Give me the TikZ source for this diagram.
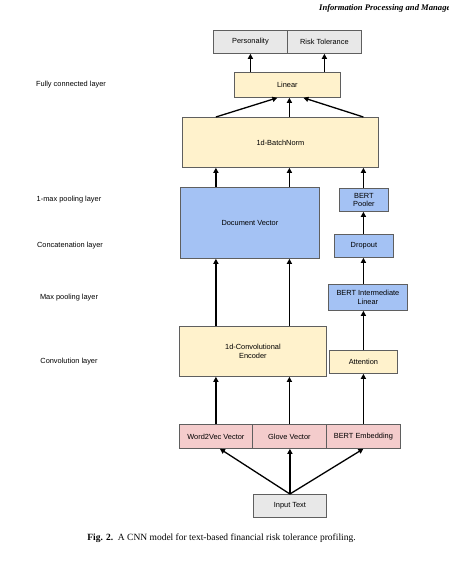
\documentclass[tikz,border=0pt]{standalone}
\usepackage{fontspec}
\setmainfont{Liberation Serif}
\newfontfamily\boxfont{Liberation Sans}
\usetikzlibrary{arrows.meta}
\definecolor{cyel}{HTML}{FFF2CC}
\definecolor{cblue}{HTML}{A4C2F4}
\definecolor{cpink}{HTML}{F4CCCC}
\definecolor{cgray}{HTML}{E8E8E8}
\definecolor{cedge}{HTML}{5F5F5F}
\tikzset{
  box/.style={draw=cedge, line width=0.8pt, anchor=north west, inner sep=1pt, align=center,
    font=\boxfont\fontsize{7.4}{8.8}\selectfont},
  yel/.style={box, fill=cyel},
  blu/.style={box, fill=cblue},
  pnk/.style={box, fill=cpink},
  gry/.style={box, fill=cgray},
  lbl/.style={font=\boxfont\fontsize{7.4}{8.8}\selectfont, inner sep=0pt},
  arr/.style={line width=1.3pt, -{Triangle[length=5pt,width=5pt]}}
}
\begin{document}
\begin{tikzpicture}[x=1pt,y=-1pt]
\useasboundingbox (0,0) rectangle (448,561);
% header (cut off at the right edge, as in the reference)
\node[anchor=base west, inner sep=0pt, font=\fontsize{8.6}{9.6}\selectfont\bfseries\itshape] (hdr) at (319,11) {Information Processing and Management};
% boxes
\node[gry, minimum width=74, minimum height=23] (pers) at (213,30) {Personality};
\node[gry, minimum width=74, minimum height=23] (risk) at (287,30) {Risk Tolerance};
\node[yel, minimum width=106, minimum height=25] (lin) at (234,72) {Linear};
\node[yel, minimum width=196, minimum height=50] (bn) at (182,117) {1d-BatchNorm};
\node[blu, minimum width=139, minimum height=71] (doc) at (180,187) {Document Vector};
\node[blu, minimum width=49, minimum height=23] (pool) at (339,188) {BERT\\Pooler};
\node[blu, minimum width=59, minimum height=23] (drop) at (334,234) {Dropout};
\node[blu, minimum width=79, minimum height=26] (inter) at (328,284) {BERT Intermediate\\Linear};
\node[yel, minimum width=68, minimum height=23] (attn) at (329,350) {Attention};
\node[yel, minimum width=147, minimum height=50] (conv) at (179,326) {1d-Convolutional\\Encoder};
\node[pnk, minimum width=73, minimum height=24] (w2v) at (179,424) {Word2Vec Vector};
\node[pnk, minimum width=74, minimum height=24] (glove) at (252,424) {Glove Vector};
\node[pnk, minimum width=74, minimum height=24] (bemb) at (326,424) {BERT Embedding};
\node[gry, minimum width=73, minimum height=23] (inp) at (253,494) {Input Text};
% layer labels
\node[lbl] (l1) at (71,85) {Fully connected layer};
\node[lbl] (l2) at (69,199.5) {1-max pooling layer};
\node[lbl] (l3) at (70,245.5) {Concatenation layer};
\node[lbl] (l4) at (69,297.5) {Max pooling layer};
\node[lbl] (l5) at (69,362) {Convolution layer};
% arrows
\draw[arr] (inp.north) -- ([xshift=4]w2v.south);
\draw[arr] (inp.north) -- (inp.north |- glove.south);
\draw[arr] (inp.north) -- (bemb.south);
\draw[arr] (w2v.north) -- (w2v.north |- conv.south);
\draw[arr] (glove.north) -- (glove.north |- conv.south);
\draw[arr] (bemb.north) -- (bemb.north |- attn.south);
\draw[arr] (w2v.north |- conv.north) -- (w2v.north |- doc.south);
\draw[arr] (glove.north |- conv.north) -- (glove.north |- doc.south);
\draw[arr] (bemb.north |- attn.north) -- (bemb.north |- inter.south);
\draw[arr] (bemb.north |- inter.north) -- (bemb.north |- drop.south);
\draw[arr] (bemb.north |- drop.north) -- (bemb.north |- pool.south);
\draw[arr] (w2v.north |- doc.north) -- (w2v.north |- bn.south);
\draw[arr] (glove.north |- doc.north) -- (glove.north |- bn.south);
\draw[arr] (bemb.north |- pool.north) -- (bemb.north |- bn.south);
\draw[arr] (w2v.north |- bn.north) -- ([xshift=-10]lin.south);
\draw[arr] (glove.north |- bn.north) -- (glove.north |- lin.south);
\draw[arr] (bemb.north |- bn.north) -- ([xshift=16]lin.south);
\draw[arr] (pers.south |- lin.north) -- (pers.south);
\draw[arr] (risk.south |- lin.north) -- (risk.south);
% caption
\node[anchor=base, inner sep=0pt, font=\fontsize{9.5}{11}\selectfont] (cap) at (221.5,540) {\textbf{Fig. 2.}\enspace A CNN model for text-based financial risk tolerance profiling.};
\end{tikzpicture}
\end{document}
